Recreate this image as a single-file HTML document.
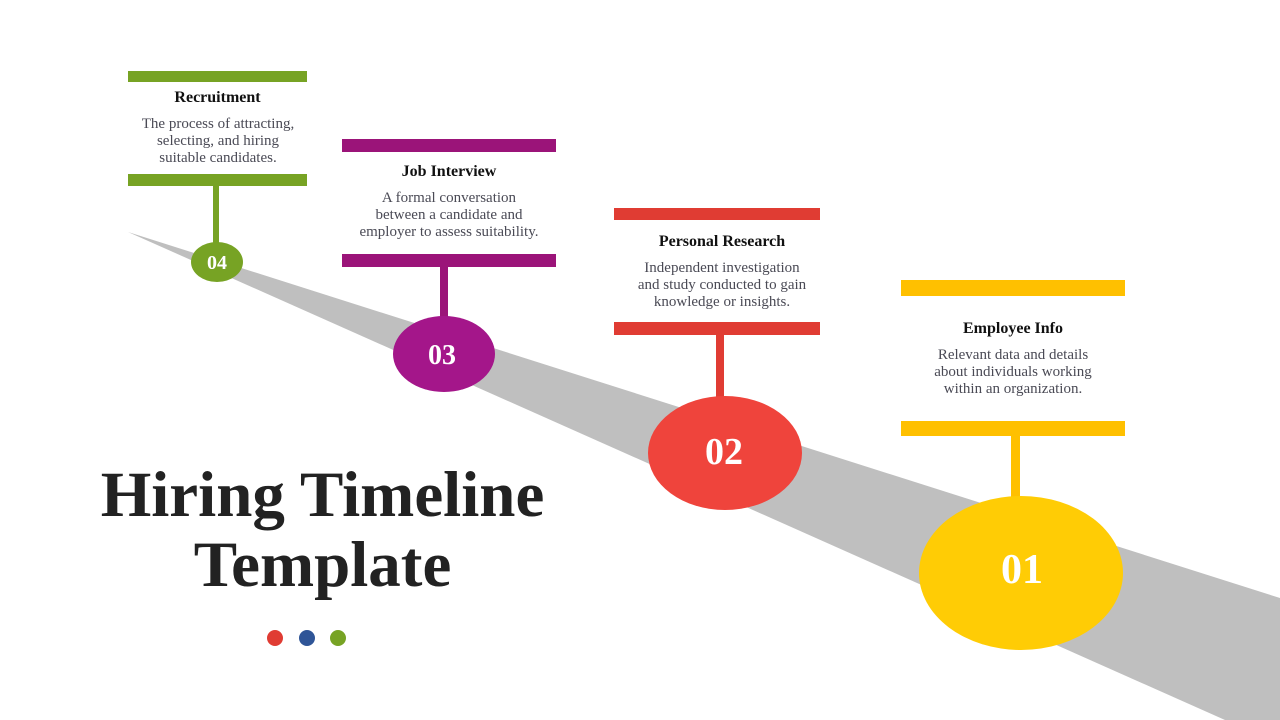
<!DOCTYPE html>
<html><head><meta charset="utf-8"><style>
body{margin:0;width:1280px;height:720px;overflow:hidden;background:#fff;font-family:"Liberation Serif",serif;}
.t{position:absolute;text-align:center;color:#111;font-weight:bold;font-size:16px;}
.d{position:absolute;text-align:center;color:#4a4a55;font-size:15px;line-height:17px;white-space:nowrap;}
</style></head><body>
<svg width="1280" height="720" style="position:absolute;left:0;top:0">
<polygon points="128,232 1280,598 1280,720 1225,720" fill="#bfbfbf"/>
<rect x="128" y="71" width="179" height="11" fill="#77a324"/>
<rect x="128" y="174" width="179" height="12" fill="#77a324"/>
<rect x="213" y="186" width="6" height="60" fill="#77a324"/>
<ellipse cx="217" cy="262" rx="26" ry="20" fill="#77a324"/>
<rect x="342" y="139" width="214" height="13" fill="#9b1479"/>
<rect x="342" y="254" width="214" height="13" fill="#9b1479"/>
<rect x="440" y="267" width="8" height="52" fill="#9b1479"/>
<ellipse cx="444" cy="354" rx="51" ry="38" fill="#a4168a"/>
<rect x="614" y="208" width="206" height="12" fill="#e03c33"/>
<rect x="614" y="322" width="206" height="13" fill="#e03c33"/>
<rect x="716" y="335" width="8" height="64" fill="#e03c33"/>
<ellipse cx="725" cy="453" rx="77" ry="57" fill="#ef443c"/>
<rect x="901" y="280" width="224" height="16" fill="#ffc000"/>
<rect x="901" y="421" width="224" height="15" fill="#ffc000"/>
<rect x="1011" y="436" width="9" height="64" fill="#ffc000"/>
<ellipse cx="1021" cy="573" rx="102" ry="77" fill="#ffcc05"/>
<g fill="#fff" font-family="Liberation Serif,serif" font-weight="bold" text-anchor="middle">
<text x="217" y="269" font-size="20">04</text>
<text x="442" y="364" font-size="28">03</text>
<text x="724" y="464" font-size="38">02</text>
<text x="1022" y="583" font-size="42">01</text>
</g>
<circle cx="275" cy="638" r="8" fill="#e03c33"/>
<circle cx="307" cy="638" r="8" fill="#2f5597"/>
<circle cx="338" cy="638" r="8" fill="#77a324"/>
</svg>
<div class="t" style="left:128px;top:89px;width:179px">Recruitment</div>
<div class="d" style="left:118px;top:116px;width:200px">The process of attracting,<br>selecting, and hiring<br>suitable candidates.</div>
<div class="t" style="left:342px;top:163px;width:214px">Job Interview</div>
<div class="d" style="left:342px;top:190px;width:214px">A formal conversation<br>between a candidate and<br>employer to assess suitability.</div>
<div class="t" style="left:614px;top:233px;width:216px">Personal Research</div>
<div class="d" style="left:614px;top:260px;width:216px">Independent investigation<br>and study conducted to gain<br>knowledge or insights.</div>
<div class="t" style="left:901px;top:320px;width:224px">Employee Info</div>
<div class="d" style="left:913px;top:347px;width:200px">Relevant data and details<br>about individuals working<br>within an organization.</div>
<div style="position:absolute;left:40px;top:460px;width:565px;text-align:center;font-weight:bold;font-size:65px;line-height:70px;color:#222;">Hiring Timeline<br>Template</div>
</body></html>
